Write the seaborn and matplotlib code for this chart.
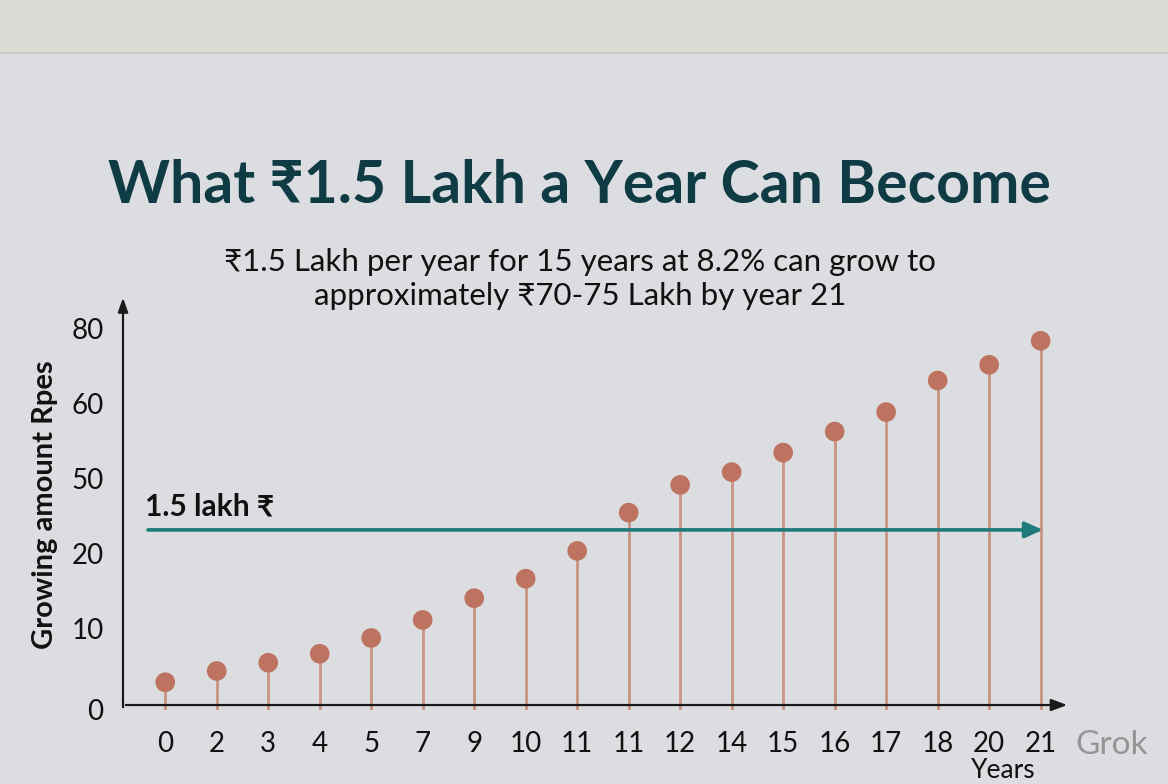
import matplotlib
matplotlib.use("Agg")
import matplotlib.pyplot as plt
import seaborn as sns
import pandas as pd
from matplotlib.patches import Rectangle

# ---- data ----
year_labels = ["0", "2", "3", "4", "5", "7", "9", "10", "11", "11", "12", "14", "15", "16", "17", "18", "20", "21"]
amounts = [3.7, 5.2, 6.3, 7.5, 9.6, 12.0, 14.9, 17.5, 21.2, 26.3, 30.0, 31.7, 34.3, 37.1, 39.7, 43.9, 46.0, 49.2]
ytick_values = [0, 10.8, 20.8, 30.8, 40.8, 50.8]
ytick_labels = ["0", "10", "20", "50", "60", "80"]
baseline_value = 24.0
baseline_label = "1.5 lakh ₹"
title = "What ₹1.5 Lakh a Year Can Become"
subtitle = "₹1.5 Lakh per year for 15 years at 8.2% can grow to\napproximately ₹70-75 Lakh by year 21"

sns.set_theme(style="white")
FONT = ["Lato", "Open Sans", "DejaVu Sans"]
plt.rcParams["font.family"] = FONT

BG = "#dcdde1"
fig = plt.figure(figsize=(11.68, 7.84), dpi=100, facecolor=BG)
# top warm band of the photo
fig.patches.append(Rectangle((0, 1 - 52 / 784), 1, 52 / 784, transform=fig.transFigure,
                             facecolor="#dcdad4", edgecolor="none", zorder=0))
fig.patches.append(Rectangle((0, 1 - 54 / 784), 1, 2 / 784, transform=fig.transFigure,
                             facecolor="#c9c9c6", edgecolor="none", zorder=0))

ax = fig.add_axes([123 / 1168, 1 - 710 / 784, 947 / 1168, 415 / 784])
ax.set_facecolor("none")

df = pd.DataFrame({"pos": range(len(amounts)), "amount": amounts})

# stems
ax.vlines(df["pos"], 0, df["amount"], color="#c99484", linewidth=2.0, zorder=2)
# dots
sns.scatterplot(data=df, x="pos", y="amount", ax=ax, s=200, color="#bd735f",
                edgecolor="none", zorder=3, legend=False)

ax.set_xlim(-0.82, 17.57)
ax.set_ylim(0, 55.3)

for s in ax.spines.values():
    s.set_visible(False)

# axis arrows
ax.annotate("", xy=(1.0, 0.012), xytext=(0, 0.012), xycoords="axes fraction",
            arrowprops=dict(arrowstyle="-|>,head_length=0.8,head_width=0.3", color="#1a1a1a", lw=1.6),
            zorder=4)
ax.annotate("", xy=(0.0, 1.0), xytext=(0.0, 0.0), xycoords="axes fraction",
            arrowprops=dict(arrowstyle="-|>,head_length=0.7,head_width=0.25", color="#1a1a1a", lw=1.6),
            zorder=4)

# baseline arrow
ax.annotate("", xy=(17.1, baseline_value), xytext=(-0.39, baseline_value), xycoords="data",
            arrowprops=dict(arrowstyle="-|>,head_length=0.9,head_width=0.4", color="#1f7b7b", lw=2.6),
            zorder=5)
ax.text(-0.39, baseline_value + 1.2, baseline_label, fontsize=21.5, fontweight="bold",
        color="#111111", ha="left", va="bottom", family=FONT)

ax.set_xticks(range(len(year_labels)))
ax.set_xticklabels(year_labels, fontsize=20, color="#111111")
ax.set_yticks(ytick_values)
ax.set_yticklabels(ytick_labels, fontsize=20, color="#111111")
ax.tick_params(axis="x", length=0, pad=15)
ax.tick_params(axis="y", length=0, pad=14)
ax.set_xlabel("")
ax.set_ylabel("")

fig.text(45 / 1168, 1 - 505 / 784, "Growing amount Rpes", rotation=90, fontsize=21,
         fontweight="bold", color="#111111", ha="center", va="center")
fig.text(1003 / 1168, 1 - 770 / 784, "Years", fontsize=19, color="#111111", ha="center", va="center")

fig.text(579 / 1168, 1 - 186 / 784, title, fontsize=42.5, fontweight="bold", color="#0f3b45",
         ha="center", va="center")
fig.text(580 / 1168, 1 - 279 / 784, subtitle, fontsize=22.5, color="#111111", ha="center",
         va="center", linespacing=1.25)

# watermark
fig.text(1112 / 1168, 1 - 745 / 784, "Grok", fontsize=24, color="#8c8c8c", ha="center",
         va="center", alpha=0.9)

fig.savefig("out.png", dpi=100, facecolor=BG)
